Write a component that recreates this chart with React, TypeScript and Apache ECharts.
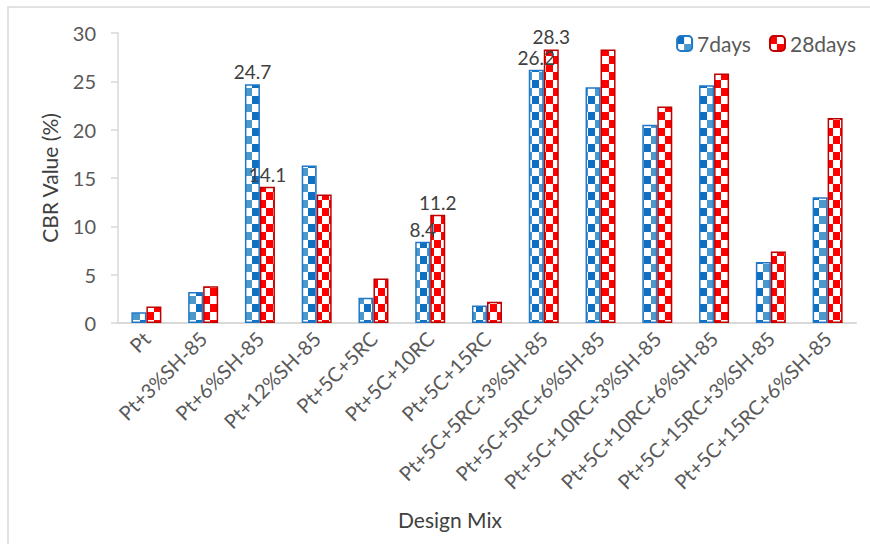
import React, { useEffect, useRef } from "react";
import * as echarts from "echarts";

const categories = [
  "Pt",
  "Pt+3%SH-85",
  "Pt+6%SH-85",
  "Pt+12%SH-85",
  "Pt+5C+5RC",
  "Pt+5C+10RC",
  "Pt+5C+15RC",
  "Pt+5C+5RC+3%SH-85",
  "Pt+5C+5RC+6%SH-85",
  "Pt+5C+10RC+3%SH-85",
  "Pt+5C+10RC+6%SH-85",
  "Pt+5C+15RC+3%SH-85",
  "Pt+5C+15RC+6%SH-85",
];
const sevenDays = [1.1, 3.2, 24.7, 16.3, 2.6, 8.4, 1.8, 26.2, 24.4, 20.5, 24.6, 6.3, 13.0];
const twentyEightDays = [1.7, 3.8, 14.1, 13.3, 4.6, 11.2, 2.2, 28.3, 28.3, 22.4, 25.8, 7.4, 21.2];
const labeledSeven = [2, 5, 7];
const labeledTwentyEight = [2, 5, 7];
const seriesNames = ["7days", "28days"];
const yTicks = { min: 0, max: 30, interval: 5 };

function makePattern(dark: string, light: string) {
  const c = document.createElement("canvas");
  c.width = 14;
  c.height = 16;
  const ctx = c.getContext("2d")!;
  ctx.fillStyle = "#ffffff";
  ctx.fillRect(0, 0, 14, 16);
  ctx.fillStyle = dark;
  ctx.fillRect(0, 0, 7, 8);
  ctx.fillStyle = light;
  ctx.fillRect(7, 8, 7, 8);
  return { image: c, repeat: "repeat" as const };
}

export default function App() {
  const ref = useRef<HTMLDivElement>(null);
  useEffect(() => {
    if (!ref.current) return;
    const chart = echarts.init(ref.current, undefined, { renderer: "svg" });
    const bluePattern = makePattern("#0f6fc0", "#4b98cc");
    const redPattern = makePattern("#ff0000", "#ff0000");
    const labelStyle = {
      show: true,
      position: "top",
      fontSize: 19,
      color: "#404040",
      fontFamily: "Lato",
      distance: 3,
    };
    const mk = (vals: number[], labeled: number[]) =>
      vals.map((v, i) => (labeled.includes(i) ? { value: v, label: labelStyle } : { value: v }));
    chart.setOption({
      animation: false,
      textStyle: { fontFamily: "Lato" },
      grid: { left: 118, right: 14, top: 33, bottom: 221, containLabel: false },
      legend: {
        right: 9,
        top: 28,
        itemWidth: 15,
        itemHeight: 15,
        itemGap: 18,
        textStyle: { fontSize: 21, color: "#595959", fontFamily: "Lato" },
        data: seriesNames,
      },
      xAxis: {
        type: "category",
        data: categories,
        axisLine: { lineStyle: { color: "#d9d9d9", width: 2 } },
        axisTick: { show: false },
        axisLabel: {
          rotate: 45,
          interval: 0,
          fontSize: 20,
          color: "#595959",
          margin: 12,
          fontFamily: "Lato",
        },
      },
      yAxis: {
        type: "value",
        min: yTicks.min,
        max: yTicks.max,
        interval: yTicks.interval,
        name: "CBR Value (%)",
        nameLocation: "middle",
        nameGap: 58,
        nameTextStyle: { fontSize: 21, color: "#404040", fontFamily: "Lato" },
        axisLine: { show: true, lineStyle: { color: "#d9d9d9", width: 1.5 } },
        axisTick: { show: true, length: 7, lineStyle: { color: "#d9d9d9", width: 1.5 } },
        splitLine: { show: false },
        axisLabel: { fontSize: 20, color: "#595959", margin: 22, fontFamily: "Lato" },
      },
      graphic: [
        {
          type: "rect",
          shape: { x: 8, y: 7, width: 900, height: 600 },
          style: { fill: "none", stroke: "#d9d9d9", lineWidth: 1.5 },
          silent: true,
          z: -10,
        },
        {
          type: "text",
          x: 450,
          y: 519,
          style: {
            text: "Design Mix",
            fontSize: 21,
            fill: "#404040",
            fontFamily: "Lato",
            align: "center",
            verticalAlign: "middle",
          },
        },
      ],
      series: [
        {
          name: seriesNames[0],
          type: "bar",
          barWidth: 15,
          barGap: "0%",
          data: mk(sevenDays, labeledSeven),
          itemStyle: { color: bluePattern, borderColor: "#1f78c8", borderWidth: 1.5 },
        },
        {
          name: seriesNames[1],
          type: "bar",
          barWidth: 15,
          barGap: "0%",
          data: mk(twentyEightDays, labeledTwentyEight),
          itemStyle: { color: redPattern, borderColor: "#c00000", borderWidth: 1.5 },
        },
      ],
    });
    return () => chart.dispose();
  }, []);
  return (
    <div
      ref={ref}
      style={{ position: "absolute", left: 0, top: 0, width: 870, height: 544 }}
    />
  );
}
